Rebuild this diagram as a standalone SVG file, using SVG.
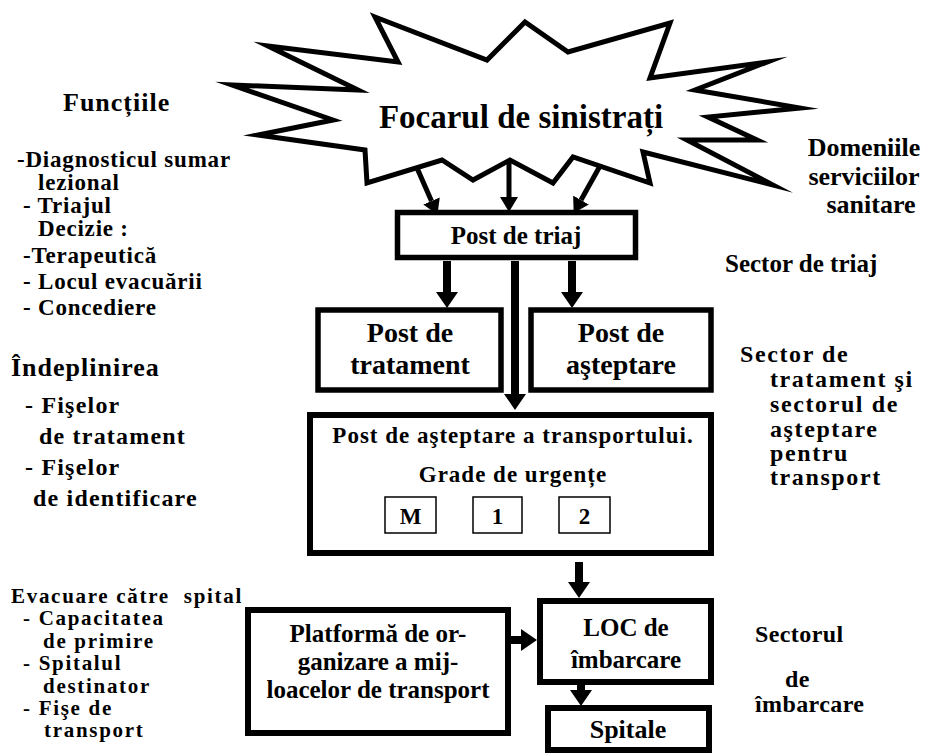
<svg xmlns="http://www.w3.org/2000/svg" width="926" height="754" viewBox="0 0 926 754">
  <style>
    text { font-family: "Liberation Serif", "Times New Roman", serif; font-weight: bold; fill: #000; }
    .box { fill: #fff; stroke: #000; stroke-width: 5.5; }
    .big { fill: #fff; stroke: #000; stroke-width: 6; }
    .small { fill: #fff; stroke: #000; stroke-width: 1.5; }
    .burst { fill: #fff; stroke: #000; stroke-width: 5; stroke-linejoin: miter; stroke-miterlimit: 20; }
    .c { text-anchor: middle; }
    .list { font-size: 23px; letter-spacing: 0.8px; }
    .list2 { font-size: 24px; letter-spacing: 1.2px; }
    .list3 { font-size: 21px; letter-spacing: 1.7px; white-space: pre; }
    .side { font-size: 26px; }
    .side2 { font-size: 24px; letter-spacing: 1.6px; }
    .side3 { font-size: 24px; letter-spacing: 0.4px; }
    .lbl { font-size: 25px; }
    .lbl2 { font-size: 23px; letter-spacing: 1px; }
    .shaft { stroke: #000; stroke-width: 8; fill: none; }
    .thin { stroke: #000; stroke-width: 5; fill: none; }
  </style>
  <defs>
    <marker id="head" markerUnits="userSpaceOnUse" markerWidth="16" markerHeight="22" viewBox="0 0 16 22" refX="0" refY="11" orient="auto">
      <path d="M0,0 L16,11 L0,22 Z" fill="#000"/>
    </marker>
    <marker id="headS" markerUnits="userSpaceOnUse" markerWidth="15" markerHeight="18" viewBox="0 0 15 18" refX="0" refY="9" orient="auto">
      <path d="M0,0 L15,9 L0,18 Z" fill="#000"/>
    </marker>
  </defs>

  <!-- incident zone: starburst -->
  <g id="focar">
    <polygon class="burst" points="375,17 487,60 525,22 568,52 670,23 650,78 767,62 695,90 800,108 708,117 757,140 687,140 773,185 643,152 650,183 573,157 553,183 510,160 473,180 442,160 367,183 365,150 258,135 333,120 232,85 358,90 268,46 398,62"/>
    <text class="c" x="521" y="128" font-size="33">Focarul de sinistrați</text>
  </g>

  <!-- connectors -->
  <g id="connectors">
    <line class="thin" x1="417" y1="168" x2="431.5" y2="201" marker-end="url(#headS)"/>
    <line class="thin" x1="509" y1="161" x2="509" y2="197" marker-end="url(#headS)"/>
    <line class="thin" x1="600" y1="166" x2="581" y2="200" marker-end="url(#headS)"/>
    <line class="shaft" x1="447" y1="261" x2="447" y2="292" marker-end="url(#head)"/>
    <line class="shaft" x1="515" y1="261" x2="515" y2="394" marker-end="url(#head)"/>
    <line class="shaft" x1="572" y1="261" x2="572" y2="292" marker-end="url(#head)"/>
    <line class="shaft" x1="579" y1="562" x2="579" y2="582" marker-end="url(#head)"/>
    <line class="shaft" x1="581" y1="685" x2="581" y2="690" marker-end="url(#head)"/>
    <line class="shaft" x1="508" y1="640" x2="521" y2="640" marker-end="url(#head)"/>
  </g>

  <g id="post-triaj">
    <rect class="box" x="397.5" y="212.5" width="238" height="45"/>
    <text class="c lbl" x="516" y="244">Post de triaj</text>
  </g>

  <g id="post-tratament">
    <rect class="box" x="318" y="310" width="183" height="80"/>
    <text class="c" x="410" y="342" font-size="28">Post de</text>
    <text class="c" x="410" y="374" font-size="28">tratament</text>
  </g>

  <g id="post-asteptare">
    <rect class="box" x="531" y="310" width="180" height="80"/>
    <text class="c" x="621" y="342" font-size="28">Post de</text>
    <text class="c" x="621" y="374" font-size="28">aşteptare</text>
  </g>

  <g id="post-transport">
    <rect class="big" x="310" y="415" width="401" height="138"/>
    <text class="c lbl2" x="513" y="443">Post de aşteptare a transportului.</text>
    <text class="c lbl2" x="513" y="482">Grade de urgențe</text>
    <g id="grad-m">
      <rect class="small" x="385" y="497" width="51" height="36"/>
      <text class="c lbl2" x="411" y="524">M</text>
    </g>
    <g id="grad-1">
      <rect class="small" x="473" y="497" width="49" height="36"/>
      <text class="c lbl2" x="498" y="524">1</text>
    </g>
    <g id="grad-2">
      <rect class="small" x="559" y="497" width="51" height="36"/>
      <text class="c lbl2" x="585" y="524">2</text>
    </g>
  </g>

  <g id="loc-imbarcare">
    <rect class="big" x="540" y="601" width="171" height="81"/>
    <text class="c lbl" x="626" y="636">LOC de</text>
    <text class="c lbl" x="626" y="668">îmbarcare</text>
  </g>

  <g id="spitale">
    <rect class="big" x="548" y="708" width="161" height="42"/>
    <text class="c" x="628" y="738" font-size="26">Spitale</text>
  </g>

  <g id="platforma">
    <rect class="big" x="248" y="610" width="260" height="123"/>
    <text class="c lbl" x="378" y="642">Platformă de or-</text>
    <text class="c lbl" x="378" y="670">ganizare a mij-</text>
    <text class="c lbl" x="378" y="698">loacelor de transport</text>
  </g>

  <!-- left column: functions -->
  <g id="functii">
    <text x="63" y="111" font-size="26" letter-spacing="1">Funcțiile</text>
    <text class="list" x="17" y="167">-Diagnosticul sumar</text>
    <text class="list" x="38" y="190">lezional</text>
    <text class="list" x="23" y="213">- Triajul</text>
    <text class="list" x="38" y="236">Decizie :</text>
    <text class="list" x="23" y="263">-Terapeutică</text>
    <text class="list" x="23" y="289">- Locul evacuării</text>
    <text class="list" x="23" y="315">- Concediere</text>
  </g>

  <g id="indeplinire">
    <text x="11" y="376" font-size="26" letter-spacing="1">Îndeplinirea</text>
    <text class="list2" x="25" y="413">- Fişelor</text>
    <text class="list2" x="39" y="444">de tratament</text>
    <text class="list2" x="25" y="475">- Fişelor</text>
    <text class="list2" x="33" y="506">de identificare</text>
  </g>

  <g id="evacuare">
    <text class="list3" x="11" y="603">Evacuare către  spital</text>
    <text class="list3" x="23" y="625">- Capacitatea</text>
    <text class="list3" x="43" y="648">de primire</text>
    <text class="list3" x="23" y="670">- Spitalul</text>
    <text class="list3" x="43" y="693">destinator</text>
    <text class="list3" x="23" y="715">- Fişe de</text>
    <text class="list3" x="44" y="737">transport</text>
  </g>

  <!-- right column: service sectors -->
  <g id="domenii">
    <text class="c side" x="864" y="156">Domeniile</text>
    <text class="c side" x="864" y="185">serviciilor</text>
    <text class="c side" x="871" y="213">sanitare</text>
  </g>

  <g id="sector-triaj">
    <text x="725" y="272" font-size="25">Sector de triaj</text>
  </g>

  <g id="sector-tratament">
    <text class="side2" x="740" y="362">Sector de</text>
    <text class="side2" x="770" y="387">tratament şi</text>
    <text class="side2" x="770" y="412">sectorul de</text>
    <text class="side2" x="770" y="437">aşteptare</text>
    <text class="side2" x="770" y="461">pentru</text>
    <text class="side2" x="770" y="485">transport</text>
  </g>

  <g id="sector-imbarcare">
    <text class="side3" x="755" y="642">Sectorul</text>
    <text class="side3" x="785" y="687">de</text>
    <text class="side3" x="755" y="712">îmbarcare</text>
  </g>
</svg>
